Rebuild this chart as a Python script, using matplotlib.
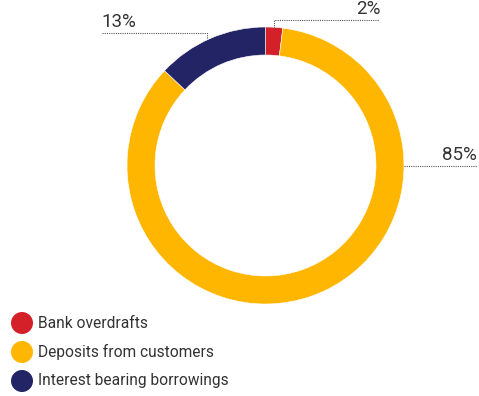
import matplotlib.pyplot as plt
from matplotlib.patches import Circle

plt.rcParams['font.family'] = ['Roboto', 'DejaVu Sans']

categories = ['Bank overdrafts', 'Deposits from customers', 'Interest bearing borrowings']
shares = [2, 85, 13]
labels = ['2%', '85%', '13%']
colors = ['#D42129', '#FFB600', '#232465']

W, H = 479, 396
fig = plt.figure(figsize=(W / 100, H / 100), dpi=100)
ax = fig.add_axes([0, 0, 1, 1])

# donut, drawn clockwise from 12 o'clock (y axis is flipped, so counterclock=True)
cx, cy, r = 265.5, 165.5, 138.5
ax.pie(shares, colors=colors, center=(cx, cy), radius=r, startangle=-90,
       counterclock=True, frame=True,
       wedgeprops=dict(width=28, edgecolor='white', linewidth=0.4))
ax.set_xlim(0, W)
ax.set_ylim(H, 0)
ax.set_aspect('equal')
ax.axis('off')

# leader lines
lead = dict(color='#555555', lw=0.8, ls=(0, (1, 1)))
ax.plot([274, 274, 379], [28, 20, 20], **lead)
ax.plot([207, 207, 102], [38, 33, 33], **lead)
ax.plot([404, 477], [166, 166], **lead)

txt = dict(fontsize=13.5, color='#333333')
ax.text(381, 18, labels[0], ha='right', va='bottom', **txt)
ax.text(477, 164, labels[1], ha='right', va='bottom', **txt)
ax.text(101, 31, labels[2], ha='left', va='bottom', **txt)

# legend
for i, (name, col) in enumerate(zip(categories, colors)):
    y = 323 + 29 * i
    ax.add_patch(Circle((22, y), 11, color=col, lw=0))
    ax.text(38, y, name, ha='left', va='center', fontsize=11.2, color='#333333')

fig.savefig('out.png', dpi=100)
